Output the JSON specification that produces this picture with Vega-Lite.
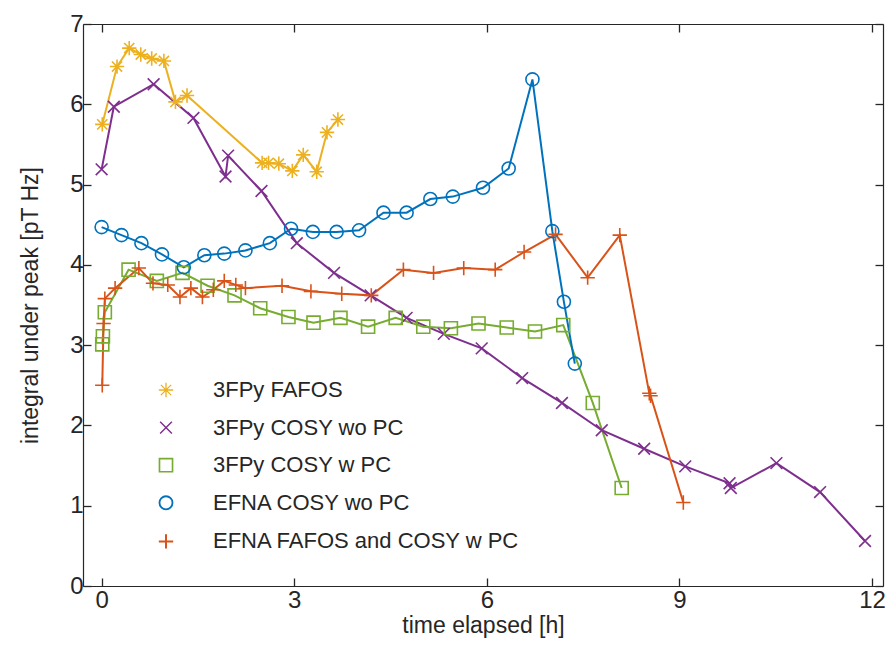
{
  "$schema": "https://vega.github.io/schema/vega-lite/v6.json",
  "width": 800,
  "height": 562,
  "autosize": {"type": "none"},
  "padding": {"left": 83, "top": 24, "right": 6, "bottom": 64},
  "background": "white",
  "config": {
    "font": "Liberation Sans",
    "view": {"stroke": null},
    "axis": {"labelColor": "#262626", "titleColor": "#262626", "tickColor": "#262626", "grid": false, "domain": true, "domainColor": "#262626", "domainWidth": 1.2, "labelFontSize": 24, "titleFontSize": 23, "titleFontWeight": "normal", "tickWidth": 1.3},
    "legend": {"labelFontSize": 22, "labelColor": "#262626", "padding": 0, "labelLimit": 0}
  },
  "data": {"values": [
    {"s": "3FPy FAFOS", "x": 0.01, "y": 5.75},
    {"s": "3FPy FAFOS", "x": 0.24, "y": 6.47},
    {"s": "3FPy FAFOS", "x": 0.43, "y": 6.70},
    {"s": "3FPy FAFOS", "x": 0.61, "y": 6.62},
    {"s": "3FPy FAFOS", "x": 0.78, "y": 6.57},
    {"s": "3FPy FAFOS", "x": 0.97, "y": 6.54},
    {"s": "3FPy FAFOS", "x": 1.15, "y": 6.03},
    {"s": "3FPy FAFOS", "x": 1.33, "y": 6.11},
    {"s": "3FPy FAFOS", "x": 2.50, "y": 5.27},
    {"s": "3FPy FAFOS", "x": 2.60, "y": 5.27},
    {"s": "3FPy FAFOS", "x": 2.76, "y": 5.26},
    {"s": "3FPy FAFOS", "x": 2.97, "y": 5.17},
    {"s": "3FPy FAFOS", "x": 3.14, "y": 5.37},
    {"s": "3FPy FAFOS", "x": 3.35, "y": 5.16},
    {"s": "3FPy FAFOS", "x": 3.51, "y": 5.65},
    {"s": "3FPy FAFOS", "x": 3.68, "y": 5.81},

    {"s": "3FPy COSY wo PC", "x": 0.0, "y": 5.19},
    {"s": "3FPy COSY wo PC", "x": 0.19, "y": 5.97},
    {"s": "3FPy COSY wo PC", "x": 0.81, "y": 6.25},
    {"s": "3FPy COSY wo PC", "x": 1.43, "y": 5.83},
    {"s": "3FPy COSY wo PC", "x": 1.93, "y": 5.10},
    {"s": "3FPy COSY wo PC", "x": 1.97, "y": 5.36},
    {"s": "3FPy COSY wo PC", "x": 2.49, "y": 4.92},
    {"s": "3FPy COSY wo PC", "x": 3.04, "y": 4.27},
    {"s": "3FPy COSY wo PC", "x": 3.62, "y": 3.90},
    {"s": "3FPy COSY wo PC", "x": 4.19, "y": 3.62},
    {"s": "3FPy COSY wo PC", "x": 4.75, "y": 3.34},
    {"s": "3FPy COSY wo PC", "x": 5.33, "y": 3.14},
    {"s": "3FPy COSY wo PC", "x": 5.92, "y": 2.96},
    {"s": "3FPy COSY wo PC", "x": 6.55, "y": 2.59},
    {"s": "3FPy COSY wo PC", "x": 7.17, "y": 2.28},
    {"s": "3FPy COSY wo PC", "x": 7.79, "y": 1.94},
    {"s": "3FPy COSY wo PC", "x": 8.45, "y": 1.71},
    {"s": "3FPy COSY wo PC", "x": 9.09, "y": 1.49},
    {"s": "3FPy COSY wo PC", "x": 9.78, "y": 1.28},
    {"s": "3FPy COSY wo PC", "x": 9.80, "y": 1.22},
    {"s": "3FPy COSY wo PC", "x": 10.51, "y": 1.53},
    {"s": "3FPy COSY wo PC", "x": 11.19, "y": 1.17},
    {"s": "3FPy COSY wo PC", "x": 11.89, "y": 0.56},

    {"s": "3FPy COSY w PC", "x": 0.01, "y": 3.01},
    {"s": "3FPy COSY w PC", "x": 0.02, "y": 3.11},
    {"s": "3FPy COSY w PC", "x": 0.05, "y": 3.41},
    {"s": "3FPy COSY w PC", "x": 0.42, "y": 3.94},
    {"s": "3FPy COSY w PC", "x": 0.86, "y": 3.80},
    {"s": "3FPy COSY w PC", "x": 1.26, "y": 3.90},
    {"s": "3FPy COSY w PC", "x": 1.65, "y": 3.74},
    {"s": "3FPy COSY w PC", "x": 2.07, "y": 3.62},
    {"s": "3FPy COSY w PC", "x": 2.47, "y": 3.46},
    {"s": "3FPy COSY w PC", "x": 2.91, "y": 3.35},
    {"s": "3FPy COSY w PC", "x": 3.30, "y": 3.28},
    {"s": "3FPy COSY w PC", "x": 3.72, "y": 3.34},
    {"s": "3FPy COSY w PC", "x": 4.15, "y": 3.23},
    {"s": "3FPy COSY w PC", "x": 4.58, "y": 3.34},
    {"s": "3FPy COSY w PC", "x": 5.01, "y": 3.23},
    {"s": "3FPy COSY w PC", "x": 5.44, "y": 3.21},
    {"s": "3FPy COSY w PC", "x": 5.87, "y": 3.27},
    {"s": "3FPy COSY w PC", "x": 6.31, "y": 3.22},
    {"s": "3FPy COSY w PC", "x": 6.75, "y": 3.17},
    {"s": "3FPy COSY w PC", "x": 7.19, "y": 3.25},
    {"s": "3FPy COSY w PC", "x": 7.65, "y": 2.28},
    {"s": "3FPy COSY w PC", "x": 8.10, "y": 1.22},

    {"s": "EFNA COSY wo PC", "x": 0.0, "y": 4.47},
    {"s": "EFNA COSY wo PC", "x": 0.31, "y": 4.37},
    {"s": "EFNA COSY wo PC", "x": 0.62, "y": 4.27},
    {"s": "EFNA COSY wo PC", "x": 0.94, "y": 4.13},
    {"s": "EFNA COSY wo PC", "x": 1.28, "y": 3.97},
    {"s": "EFNA COSY wo PC", "x": 1.60, "y": 4.12},
    {"s": "EFNA COSY wo PC", "x": 1.91, "y": 4.14},
    {"s": "EFNA COSY wo PC", "x": 2.24, "y": 4.18},
    {"s": "EFNA COSY wo PC", "x": 2.62, "y": 4.27},
    {"s": "EFNA COSY wo PC", "x": 2.95, "y": 4.45},
    {"s": "EFNA COSY wo PC", "x": 3.29, "y": 4.41},
    {"s": "EFNA COSY wo PC", "x": 3.66, "y": 4.41},
    {"s": "EFNA COSY wo PC", "x": 4.01, "y": 4.43},
    {"s": "EFNA COSY wo PC", "x": 4.39, "y": 4.65},
    {"s": "EFNA COSY wo PC", "x": 4.75, "y": 4.65},
    {"s": "EFNA COSY wo PC", "x": 5.12, "y": 4.82},
    {"s": "EFNA COSY wo PC", "x": 5.47, "y": 4.85},
    {"s": "EFNA COSY wo PC", "x": 5.94, "y": 4.96},
    {"s": "EFNA COSY wo PC", "x": 6.34, "y": 5.20},
    {"s": "EFNA COSY wo PC", "x": 6.71, "y": 6.31},
    {"s": "EFNA COSY wo PC", "x": 7.02, "y": 4.42},
    {"s": "EFNA COSY wo PC", "x": 7.20, "y": 3.54},
    {"s": "EFNA COSY wo PC", "x": 7.37, "y": 2.77},

    {"s": "EFNA FAFOS and COSY w PC", "x": 0.01, "y": 2.50},
    {"s": "EFNA FAFOS and COSY w PC", "x": 0.03, "y": 3.27},
    {"s": "EFNA FAFOS and COSY w PC", "x": 0.05, "y": 3.58},
    {"s": "EFNA FAFOS and COSY w PC", "x": 0.21, "y": 3.71},
    {"s": "EFNA FAFOS and COSY w PC", "x": 0.58, "y": 3.96},
    {"s": "EFNA FAFOS and COSY w PC", "x": 0.80, "y": 3.77},
    {"s": "EFNA FAFOS and COSY w PC", "x": 1.03, "y": 3.75},
    {"s": "EFNA FAFOS and COSY w PC", "x": 1.22, "y": 3.60},
    {"s": "EFNA FAFOS and COSY w PC", "x": 1.39, "y": 3.71},
    {"s": "EFNA FAFOS and COSY w PC", "x": 1.57, "y": 3.60},
    {"s": "EFNA FAFOS and COSY w PC", "x": 1.74, "y": 3.69},
    {"s": "EFNA FAFOS and COSY w PC", "x": 1.91, "y": 3.80},
    {"s": "EFNA FAFOS and COSY w PC", "x": 2.09, "y": 3.75},
    {"s": "EFNA FAFOS and COSY w PC", "x": 2.24, "y": 3.71},
    {"s": "EFNA FAFOS and COSY w PC", "x": 2.81, "y": 3.74},
    {"s": "EFNA FAFOS and COSY w PC", "x": 3.26, "y": 3.67},
    {"s": "EFNA FAFOS and COSY w PC", "x": 3.74, "y": 3.64},
    {"s": "EFNA FAFOS and COSY w PC", "x": 4.20, "y": 3.62},
    {"s": "EFNA FAFOS and COSY w PC", "x": 4.70, "y": 3.94},
    {"s": "EFNA FAFOS and COSY w PC", "x": 5.17, "y": 3.90},
    {"s": "EFNA FAFOS and COSY w PC", "x": 5.64, "y": 3.96},
    {"s": "EFNA FAFOS and COSY w PC", "x": 6.13, "y": 3.94},
    {"s": "EFNA FAFOS and COSY w PC", "x": 6.58, "y": 4.16},
    {"s": "EFNA FAFOS and COSY w PC", "x": 7.07, "y": 4.38},
    {"s": "EFNA FAFOS and COSY w PC", "x": 7.57, "y": 3.84},
    {"s": "EFNA FAFOS and COSY w PC", "x": 8.07, "y": 4.37},
    {"s": "EFNA FAFOS and COSY w PC", "x": 8.53, "y": 2.40},
    {"s": "EFNA FAFOS and COSY w PC", "x": 8.55, "y": 2.37},
    {"s": "EFNA FAFOS and COSY w PC", "x": 9.06, "y": 1.04}
  ]},
  "resolve": {"axis": {"x": "independent", "y": "independent"}},
  "layer": [
    {
      "mark": {"type": "line", "strokeWidth": 2},
      "encoding": {
        "x": {"field": "x", "type": "quantitative", "scale": {"domain": [-0.29, 12.17], "nice": false, "zero": false},
              "axis": {"orient": "bottom", "values": [0, 3, 6, 9, 12], "ticks": true, "tickSize": -8, "labelPadding": 10, "title": "time elapsed [h]", "titlePadding": 2}},
        "y": {"field": "y", "type": "quantitative", "scale": {"domain": [0, 7], "nice": false},
              "axis": {"orient": "left", "values": [0, 1, 2, 3, 4, 5, 6, 7], "ticks": true, "tickSize": -8, "labelPadding": 8, "title": "integral under peak [pT Hz]", "titlePadding": 27}},
        "color": {"field": "s", "type": "nominal",
                  "scale": {"domain": ["3FPy FAFOS", "3FPy COSY wo PC", "3FPy COSY w PC", "EFNA COSY wo PC", "EFNA FAFOS and COSY w PC"],
                            "range": ["#EDB120", "#7E2F8E", "#77AC30", "#0072BD", "#D95319"]}},
        "strokeWidth": {"field": "s", "type": "nominal",
                   "scale": {"domain": ["3FPy FAFOS", "3FPy COSY wo PC", "3FPy COSY w PC", "EFNA COSY wo PC", "EFNA FAFOS and COSY w PC"],
                             "range": [1.3, 2, 2, 2, 2]}, "legend": null}
      }
    },
    {
      "mark": {"type": "point", "filled": false, "strokeWidth": 1.6, "opacity": 1, "size": 170},
      "encoding": {
        "x": {"field": "x", "type": "quantitative", "axis": {"orient": "top", "values": [0, 3, 6, 9, 12], "ticks": true, "tickSize": -8, "labels": false, "title": null}},
        "y": {"field": "y", "type": "quantitative", "axis": {"orient": "right", "values": [0, 1, 2, 3, 4, 5, 6, 7], "ticks": true, "tickSize": -8, "labels": false, "title": null}},
        "color": {"field": "s", "type": "nominal",
                  "legend": {"orient": "none", "legendX": 72, "legendY": 355, "title": null, "symbolSize": 170, "symbolStrokeWidth": 1.6, "labelOffset": 36, "rowPadding": 15.6}},
        "shape": {"field": "s", "type": "nominal",
                  "scale": {"domain": ["3FPy FAFOS", "3FPy COSY wo PC", "3FPy COSY w PC", "EFNA COSY wo PC", "EFNA FAFOS and COSY w PC"],
                            "range": ["M0,-1.1V1.1M-1.1,0H1.1M-0.78,-0.78L0.78,0.78M-0.78,0.78L0.78,-0.78", "M-0.9,-0.9L0.9,0.9M-0.9,0.9L0.9,-0.9", "square", "circle", "M0,-1.1V1.1M-1.1,0H1.1"]},
                  "legend": {"orient": "none", "legendX": 72, "legendY": 355, "title": null, "symbolSize": 170, "symbolStrokeWidth": 1.6, "labelOffset": 36, "rowPadding": 15.6}}
      }
    }
  ]
}
